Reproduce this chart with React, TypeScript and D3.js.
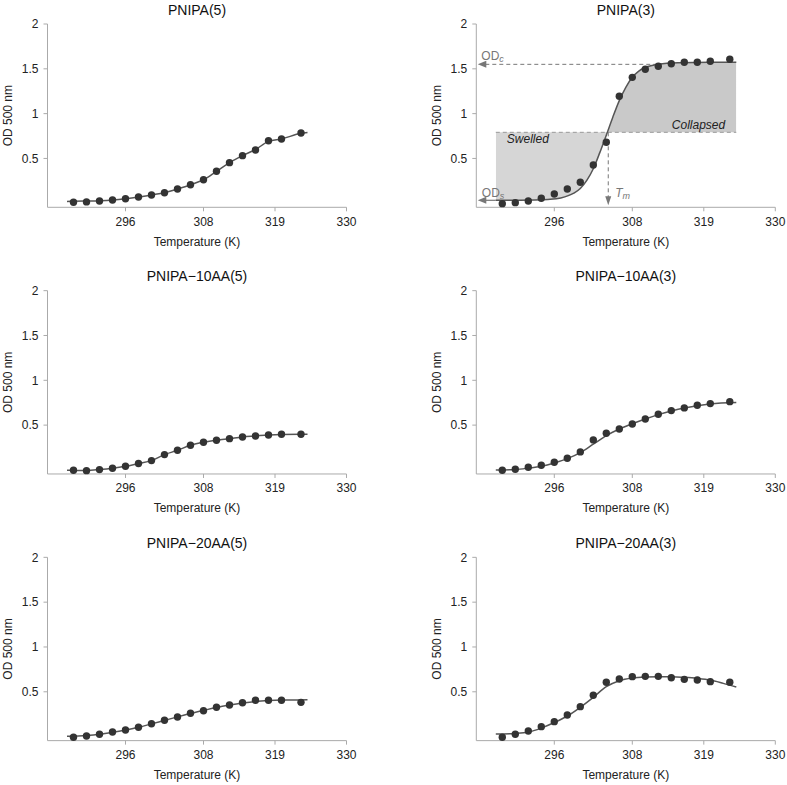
import React from 'react';
import * as d3 from 'd3';

// ---- data ----
const temps = [288, 290, 292, 294, 296, 298, 300, 302, 304, 306, 308, 310, 312, 314, 316, 318, 320, 323];

const titles = ['PNIPA(5)', 'PNIPA(3)', 'PNIPA\u221210AA(5)', 'PNIPA\u221210AA(3)', 'PNIPA\u221220AA(5)', 'PNIPA\u221220AA(3)'];

const pnipa5 = [0.011, 0.015, 0.026, 0.037, 0.051, 0.070, 0.093, 0.118, 0.160, 0.207, 0.263, 0.357, 0.453, 0.531, 0.595, 0.698, 0.717, 0.784];
const pnipa3 = [-0.004, 0.007, 0.026, 0.056, 0.104, 0.160, 0.234, 0.427, 0.680, 1.194, 1.405, 1.495, 1.528, 1.557, 1.573, 1.573, 1.584, 1.606];
const aa10_5 = [-0.004, -0.008, 0.004, 0.019, 0.041, 0.071, 0.104, 0.171, 0.219, 0.275, 0.309, 0.331, 0.349, 0.368, 0.379, 0.390, 0.398, 0.398];
const aa10_3 = [-0.004, 0.007, 0.030, 0.052, 0.085, 0.130, 0.201, 0.335, 0.409, 0.457, 0.513, 0.569, 0.621, 0.662, 0.692, 0.721, 0.740, 0.762];
const aa20_5 = [-0.008, 0.007, 0.026, 0.051, 0.074, 0.104, 0.144, 0.182, 0.219, 0.260, 0.289, 0.327, 0.352, 0.378, 0.405, 0.405, 0.405, 0.382];
const aa20_3 = [-0.008, 0.026, 0.063, 0.111, 0.167, 0.241, 0.334, 0.461, 0.606, 0.643, 0.669, 0.672, 0.672, 0.657, 0.639, 0.631, 0.613, 0.606];

// fitted curves
const fitT_pnipa5 = [287, 288, 290, 292, 294, 296, 298, 300, 302, 304, 306, 308, 310, 312, 314, 316, 318, 320, 323, 324];
const fitV_pnipa5 = [0.020, 0.022, 0.025, 0.029, 0.037, 0.051, 0.070, 0.093, 0.118, 0.160, 0.207, 0.263, 0.357, 0.453, 0.531, 0.600, 0.690, 0.718, 0.780, 0.790];

const fitT_pnipa3 = [287, 290, 293, 295, 297, 299, 300, 301, 302, 303, 304, 305, 306, 307, 308, 309, 310, 312, 315, 320, 324];
const fitV_pnipa3 = [0.033, 0.034, 0.036, 0.042, 0.059, 0.112, 0.165, 0.255, 0.385, 0.565, 0.760, 0.960, 1.145, 1.293, 1.405, 1.475, 1.515, 1.552, 1.568, 1.573, 1.573];

const fitT_aa10_5 = [287, 288, 290, 292, 294, 296, 298, 300, 302, 304, 306, 308, 310, 312, 314, 316, 318, 320, 323, 324];
const fitV_aa10_5 = [-0.004, -0.005, -0.006, 0.004, 0.019, 0.041, 0.071, 0.104, 0.171, 0.219, 0.275, 0.309, 0.331, 0.349, 0.368, 0.379, 0.390, 0.396, 0.398, 0.398];

const fitT_aa10_3 = [287, 290, 292, 294, 296, 298, 300, 302, 304, 306, 308, 310, 312, 314, 316, 318, 320, 324];
const fitV_aa10_3 = [0.000, 0.005, 0.020, 0.041, 0.078, 0.126, 0.193, 0.287, 0.383, 0.457, 0.516, 0.569, 0.617, 0.658, 0.692, 0.717, 0.736, 0.751];

const fitT_aa20_5 = [287, 290, 292, 294, 296, 298, 300, 302, 304, 306, 308, 310, 312, 314, 316, 318, 320, 324];
const fitV_aa20_5 = [0.003, 0.012, 0.026, 0.048, 0.074, 0.104, 0.142, 0.181, 0.220, 0.258, 0.292, 0.325, 0.352, 0.375, 0.393, 0.403, 0.408, 0.410];

const fitT_aa20_3 = [287, 290, 292, 294, 296, 298, 300, 302, 304, 306, 308, 310, 312, 314, 316, 318, 320, 322, 324];
const fitV_aa20_3 = [0.029, 0.036, 0.050, 0.095, 0.157, 0.230, 0.327, 0.438, 0.557, 0.624, 0.654, 0.665, 0.668, 0.668, 0.661, 0.650, 0.631, 0.594, 0.553];

const seriesValues = [pnipa5, pnipa3, aa10_5, aa10_3, aa20_5, aa20_3];
const fitTemps = [fitT_pnipa5, fitT_pnipa3, fitT_aa10_5, fitT_aa10_3, fitT_aa20_5, fitT_aa20_3];
const fitValues = [fitV_pnipa5, fitV_pnipa3, fitV_aa10_5, fitV_aa10_3, fitV_aa20_5, fitV_aa20_3];

const xTicks = [296, 308, 319, 330];
const yTicks = [0.5, 1, 1.5, 2];
const yTickLabels = ['0.5', '1', '1.5', '2'];
const xDomain = [284, 330];
const yDomain = [-0.045, 2];

// annotation levels for PNIPA(3)
const odS = 0.033;
const odC = 1.55;
const tm = 304.3;
const fillRange = [287, 324];

const FONT = 'Arial, "Liberation Sans", Helvetica, sans-serif';
const AXIS = '#aaaaaa';
const ANN = '#777777';

function Panel({ idx }: { idx: number }) {
  const col = idx % 2;
  const row = Math.floor(idx / 2);
  const left = col ? 476.3 : 47.5;
  const width = 299;
  const top = 24 + row * 266.67;
  const bottom = 207.3 + row * 266.67;
  const x = d3.scaleLinear().domain(xDomain).range([left, left + width]);
  const y = d3.scaleLinear().domain(yDomain).range([bottom, top]);
  const fit: [number, number][] = fitTemps[idx].map((t, i) => [t, fitValues[idx][i]]);
  const line = d3.line<[number, number]>().x(d => x(d[0])).y(d => y(d[1])).curve(d3.curveMonotoneX);
  const cx = left + width / 2;
  const annotated = idx === 1;
  const mid = (odS + odC) / 2;
  const area = d3.area<[number, number]>().x(d => x(d[0])).y0(y(mid)).y1(d => y(d[1])).curve(d3.curveMonotoneX);

  return (
    <g>
      <text x={cx} y={top - 9.5} textAnchor="middle" fontSize={14} fill="#111">{titles[idx]}</text>
      {annotated && (
        <g>
          <defs>
            <clipPath id="clipL"><rect x={x(fillRange[0])} y={top} width={x(tm) - x(fillRange[0])} height={bottom - top} /></clipPath>
            <clipPath id="clipR"><rect x={x(tm)} y={top} width={x(fillRange[1]) - x(tm)} height={bottom - top} /></clipPath>
          </defs>
          <line x1={left + 9} x2={x(fillRange[1])} y1={y(odC)} y2={y(odC)} stroke={ANN} strokeWidth={1} strokeDasharray="4,3" />
          <path d={area(fit) || ''} fill="#d6d6d6" clipPath="url(#clipL)" />
          <path d={area(fit) || ''} fill="#c9c9c9" clipPath="url(#clipR)" />
          <line x1={x(fillRange[0])} x2={x(fillRange[1])} y1={y(mid)} y2={y(mid)} stroke="#999" strokeWidth={1} strokeDasharray="4,3" />
          {/* OD_c arrowhead */}
          <path d={`M${left + 1.5},${y(odC)} L${left + 10},${y(odC) - 3.5} L${left + 10},${y(odC) + 3.5} Z`} fill={ANN} />
          {/* OD_s arrow */}
          <line x1={left + 9} x2={x(fillRange[0])} y1={y(odS)} y2={y(odS)} stroke={ANN} strokeWidth={1.2} />
          <path d={`M${left + 1.5},${y(odS)} L${left + 10},${y(odS) - 3.5} L${left + 10},${y(odS) + 3.5} Z`} fill={ANN} />
          {/* Tm arrow */}
          <line x1={x(tm)} x2={x(tm)} y1={y(mid)} y2={bottom - 10} stroke={ANN} strokeWidth={1} strokeDasharray="4,3" />
          <path d={`M${x(tm)},${bottom - 2} L${x(tm) - 3},${bottom - 11} L${x(tm) + 3},${bottom - 11} Z`} fill={ANN} />
          <text x={left + 5} y={y(odC) - 4.5} fontSize={12} fill={ANN}>OD<tspan fontSize={9} dy={2} fontStyle="italic">c</tspan></text>
          <text x={left + 5.5} y={y(odS) - 3.5} fontSize={12} fill={ANN}>OD<tspan fontSize={9} dy={2} fontStyle="italic">s</tspan></text>
          <text x={x(tm) + 7} y={bottom - 10.5} fontSize={12} fill={ANN} fontStyle="italic">T<tspan fontSize={9} dy={2}>m</tspan></text>
          <text x={x(fillRange[0]) + 11} y={y(mid) + 11} fontSize={12} fill="#222" fontStyle="italic">Swelled</text>
          <text x={x(fillRange[1]) - 64.5} y={y(mid) - 3} fontSize={12} fill="#222" fontStyle="italic">Collapsed</text>
        </g>
      )}
      {/* axes */}
      <line x1={left} x2={left + width} y1={bottom} y2={bottom} stroke={AXIS} strokeWidth={1} />
      <line x1={left} x2={left} y1={top} y2={bottom} stroke={AXIS} strokeWidth={1} />
      {xTicks.map(t => (
        <g key={t}>
          <line x1={x(t)} x2={x(t)} y1={bottom} y2={bottom + 4} stroke={AXIS} />
          <text x={x(t)} y={bottom + 18.5} textAnchor="middle" fontSize={12} fill="#222">{t}</text>
        </g>
      ))}
      {yTicks.map((v, i) => (
        <g key={v}>
          <line x1={left - 4} x2={left} y1={y(v)} y2={y(v)} stroke={AXIS} />
          <text x={left - 9} y={y(v) + 4.3} textAnchor="end" fontSize={12} fill="#222">{yTickLabels[i]}</text>
        </g>
      ))}
      <text x={cx} y={bottom + 38.5} textAnchor="middle" fontSize={12} fill="#222">Temperature (K)</text>
      <text transform={`translate(${left - 35.5},${(top + bottom) / 2}) rotate(-90)`} textAnchor="middle" fontSize={12} fill="#222">OD 500 nm</text>
      {/* fit curve */}
      <path d={line(fit) || ''} fill="none" stroke="#555" strokeWidth={1.5} />
      {/* points */}
      {temps.map((t, i) => (
        <circle key={t} cx={x(t)} cy={y(seriesValues[idx][i])} r={3.7} fill="#333" />
      ))}
    </g>
  );
}

export default function App() {
  return (
    <svg width={787} height={785} style={{ position: 'absolute', left: 0, top: 0, background: '#fff' }} fontFamily={FONT}>
      <rect x={0} y={0} width={787} height={785} fill="#fff" />
      {[0, 1, 2, 3, 4, 5].map(i => <Panel key={i} idx={i} />)}
    </svg>
  );
}
